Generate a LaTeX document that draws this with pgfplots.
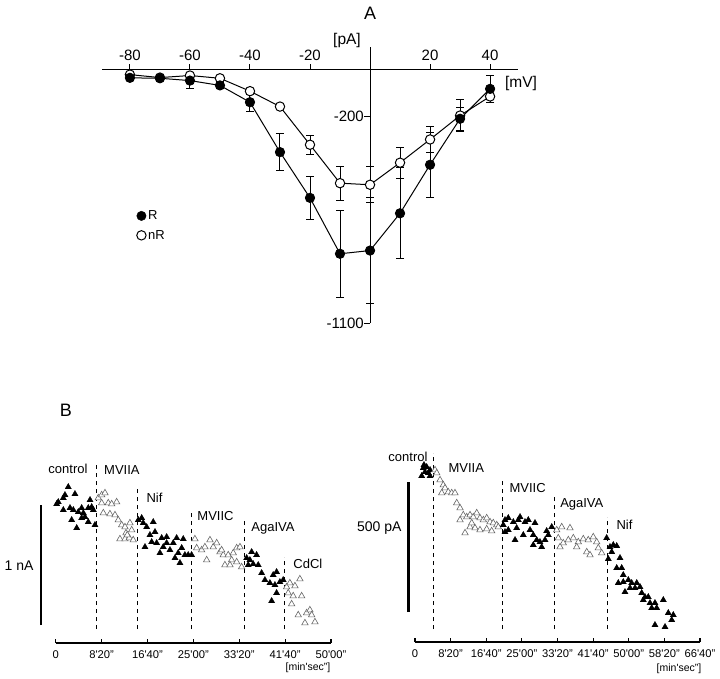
\documentclass[border=0pt]{standalone}
\usepackage{fontspec}
\setmainfont{Liberation Sans}
\usepackage{pgfplots}
\pgfplotsset{compat=1.18}
\newcommand{\ms}[2]{#1\textquotesingle#2"}
\pgfplotsset{
  filled/.style={only marks, mark=triangle*, mark size=3.6pt, mark options={fill=black, draw=black, line width=0.3pt}},
  open/.style={only marks, mark=triangle*, mark size=3.7pt, mark options={fill=white, draw=black!60, line width=0.6pt}},
  drug/.style={black, line width=1.3pt, dash pattern=on 4pt off 4pt, no marks},
  bax/.style={scale only axis, anchor=south west, axis x line=bottom, axis y line=none,
    axis line style={-, line width=1.2pt},
    every outer x axis line/.append style={-}, every inner x axis line/.append style={-},
    xtick align=inside, major tick length=4pt, tick style={black, line width=1.2pt},
    xticklabel style={font=\fontsize{11.2}{13}\selectfont, inner sep=0pt, anchor=north, yshift=-7pt},
    clip=false, ymin=0, ymax=190, height=190pt},
  Rst/.style={black, line width=1pt, mark=*, mark size=4.7pt, mark options={fill=black, draw=black, line width=0.8pt}},
  nRst/.style={black, line width=1pt, mark=*, mark size=4.7pt, mark options={fill=white, draw=black, line width=1pt}},
}
\begin{document}
\begin{tikzpicture}[x=1pt,y=1pt]
\path[use as bounding box] (0,0) rectangle (720,-679);
\node[font=\fontsize{18}{20}\selectfont] at (370,-13) {A};
\node[font=\fontsize{18}{20}\selectfont] at (66,-410) {B};
\node[font=\fontsize{15.5}{17}\selectfont] at (347,-40) {[pA]};
\node[font=\fontsize{15.5}{17}\selectfont] at (521,-83) {[mV]};

% ---------------- Panel A ----------------
\begin{axis}[
  at={(102pt,-323pt)}, anchor=south west, scale only axis,
  width=416pt, height=276pt,
  xmin=-89.3, xmax=49.3, ymin=-1100, ymax=100,
  axis lines=middle, axis line style={-, line width=1pt},
  every inner x axis line/.append style={-}, every inner y axis line/.append style={-},
  xtick={-80,-60,-40,-20,20,40}, xticklabels={-80,-60,-40,-20,20,40},
  ytick={-200,-1100}, yticklabels={-200,-1100},
  xtick align=inside, ytick align=outside, major tick length=6pt,
  tick style={black, line width=1pt},
  xticklabel style={font=\fontsize{15}{17}\selectfont, inner sep=0pt, anchor=south, yshift=9pt},
  yticklabel style={font=\fontsize{15}{17}\selectfont, inner sep=0pt, anchor=east},
  clip=false,
  legend style={at={(0.083,0.415)}, anchor=north west, draw=none, fill=none,
    font=\fontsize{13}{15}\selectfont, row sep=5pt, inner sep=0pt},
  legend cell align=left,
  error bars/error bar style={black, line width=1pt},
  error bars/error mark options={rotate=90, mark size=4pt, line width=1pt},
]
\addplot+[nRst, forget plot, error bars/.cd, y dir=both, y explicit] coordinates {
  (-80,-20) +- (0,5)
  (-70,-33) +- (0,5)
  (-60,-24) +- (0,12)
  (-50,-36) +- (0,5)
  (-40,-92) +- (0,8)
  (-30,-159) +- (0,10)
  (-20,-325) +- (0,42)
  (-10,-492) +- (0,74)
  (0,-499) +- (0,78)
  (10,-403) +- (0,68)
  (20,-302) +- (0,56)
  (30,-198) +- (0,70)
  (40,-115) +- (0,25)
};
\addplot+[Rst, forget plot, error bars/.cd, y dir=both, y explicit] coordinates {
  (-80,-34) +- (0,5)
  (-70,-36) +- (0,5)
  (-60,-46) +- (0,34)
  (-50,-67) +- (0,15)
  (-40,-140) +- (0,40)
  (-30,-357) +- (0,80)
  (-20,-556) +- (0,95)
  (-10,-799) +- (0,190)
  (0,-785) +- (0,229)
  (10,-623) +- (0,198)
  (20,-412) +- (0,141)
  (30,-212) +- (0,50)
  (40,-82) +- (0,58)
};
\addlegendimage{only marks, mark=*, mark size=4.7pt, mark options={fill=black, draw=black}}
\addlegendentry{R}
\addlegendimage{only marks, mark=*, mark size=4.7pt, mark options={fill=white, draw=black, line width=1pt}}
\addlegendentry{nR}
\end{axis}

% ---------------- Panel B left ----------------
\begin{axis}[bax, at={(55.7pt,-643pt)}, width=275.3pt,
  xmin=0, xmax=3000, xtick={0,500,...,3000},
  xticklabels={0,\ms{8}{20},\ms{16}{40},\ms{25}{00},\ms{33}{20},\ms{41}{40},\ms{50}{00}}]
\addplot[line width=2.5pt, no marks] coordinates {(-160,18) (-160,138)};
\node[anchor=east, font=\fontsize{14}{16}\selectfont] at (axis cs:-204,77) {1 nA};
\addplot[drug] coordinates {(447,14) (447,180)};
\addplot[drug] coordinates {(889,14) (889,156)};
\addplot[drug] coordinates {(1481,14) (1481,133)};
\addplot[drug] coordinates {(2059,14) (2059,123)};
\addplot[drug] coordinates {(2490,14) (2490,86)};
\addplot[filled] coordinates {(137,156) (101,148) (83,145) (28,141) (11,139) (210,149) (156,135) (83,133) (192,133) (283,135) (246,131) (301,130) (355,135) (374,143) (392,136) (319,126) (174,123) (229,115) (283,125) (355,121) (428,118) (410,133)};
\addplot[open] coordinates {(464,145) (501,148) (537,150) (501,140) (573,140) (610,139) (664,141) (519,130) (591,129) (646,128) (682,123) (719,118) (755,116) (809,120) (766,110) (700,104) (755,104) (802,105) (845,103) (780,108) (828,113)};
\addplot[filled] coordinates {(900,123) (937,125) (954,120) (991,116) (1063,121) (1082,111) (1027,108) (973,96) (1046,101) (1100,100) (1155,105) (1172,96) (1136,90) (1209,106) (1245,93) (1318,105) (1281,100) (1335,90) (1300,85) (1354,80) (1373,95) (1408,88) (1444,88) (1481,88) (1390,104) (1209,100)};
\addplot[open] coordinates {(1517,104) (1536,95) (1590,93) (1626,96) (1645,83) (1681,103) (1717,96) (1754,100) (1790,91) (1826,88) (1844,78) (1880,88) (1917,83) (1935,90) (1972,95) (2008,96) (1972,81) (2026,76) (1899,78) (1808,93)};
\addplot[filled] coordinates {(2081,85) (2135,91) (2189,88) (2098,78) (2152,79) (2207,78) (2244,70) (2280,63) (2334,60) (2370,68) (2407,71) (2443,61) (2389,58) (2407,50) (2353,42) (2479,63) (2116,83)};
\addplot[open] coordinates {(2516,56) (2552,60) (2607,57) (2661,64) (2534,50) (2588,47) (2680,47) (2571,39) (2643,28) (2734,30) (2770,33) (2789,28) (2825,21) (2716,20)};
\node[anchor=west, font=\fontsize{13}{15}\selectfont] at (axis cs:-117,174) {control};
\node[anchor=west, font=\fontsize{13}{15}\selectfont] at (axis cs:490,173) {MVIIA};
\node[anchor=west, font=\fontsize{13}{15}\selectfont] at (axis cs:951,145) {Nif};
\node[anchor=west, font=\fontsize{13}{15}\selectfont] at (axis cs:1506,127) {MVIIC};
\node[anchor=west, font=\fontsize{13}{15}\selectfont] at (axis cs:2094,115) {AgaIVA};
\node[anchor=west, font=\fontsize{13}{15}\selectfont] at (axis cs:2552,79) {CdCl};
\node[font=\fontsize{10.5}{12}\selectfont] at (axis cs:2749,-25) {[min\textquotesingle sec"]};
\end{axis}

% ---------------- Panel B right ----------------
\begin{axis}[bax, at={(415pt,-642pt)}, width=285pt,
  xmin=0, xmax=4000, xtick={0,500,...,4000},
  xticklabels={0,\ms{8}{20},\ms{16}{40},\ms{25}{00},\ms{33}{20},\ms{41}{40},\ms{50}{00},\ms{58}{20},\ms{66}{40}}]
\addplot[line width=2.5pt, no marks] coordinates {(-94,30) (-94,160)};
\node[anchor=east, font=\fontsize{14}{16}\selectfont] at (axis cs:-140,114) {500 pA};
\addplot[drug] coordinates {(257,13) (257,189)};
\addplot[drug] coordinates {(1225,13) (1225,164)};
\addplot[drug] coordinates {(1961,13) (1961,145)};
\addplot[drug] coordinates {(2705,13) (2705,125)};
\addplot[filled] coordinates {(116,174) (164,175) (140,170) (94,166) (187,169) (211,166) (211,172) (126,177)};
\addplot[open] coordinates {(281,172) (305,169) (351,162) (397,157) (421,154) (375,149) (467,150) (515,149) (561,149) (585,139) (632,134) (678,127) (726,125) (772,127) (818,125) (866,129) (912,124) (959,122) (1006,124) (1053,120) (1099,119) (1147,117) (702,109) (772,115) (842,114) (912,112) (1006,113) (1076,111) (1169,115) (632,122) (796,119)};
\addplot[filled] coordinates {(1263,122) (1309,124) (1380,120) (1450,122) (1474,125) (1544,120) (1590,122) (1684,119) (1263,110) (1309,112) (1404,102) (1427,114) (1520,107) (1614,112) (1660,107) (1708,102) (1754,100) (1660,97) (1778,95) (1825,102) (1871,107) (1848,111) (1919,115) (1239,117)};
\addplot[open] coordinates {(1989,112) (2059,115) (2175,114) (2011,104) (2081,99) (2152,102) (2222,104) (2292,100) (2362,103) (2432,102) (2502,105) (2550,100) (2410,90) (2456,87) (2573,94) (2620,89) (2269,95) (2035,95)};
\addplot[filled] coordinates {(2690,104) (2737,95) (2783,97) (2831,96) (2761,90) (2713,83) (2877,84) (2831,74) (2901,74) (2853,59) (2923,60) (2994,62) (3041,59) (3112,59) (3018,54) (3088,54) (3158,55) (3182,49) (3228,45) (3274,45) (3204,42) (3298,39) (3368,39) (3392,34) (3485,42) (3322,34) (3555,29) (3625,27) (3603,22) (3368,17) (3509,15) (2923,67) (2947,50)};
\node[anchor=east, font=\fontsize{13}{15}\selectfont] at (axis cs:225,185) {control};
\node[anchor=west, font=\fontsize{13}{15}\selectfont] at (axis cs:421,174) {MVIIA};
\node[anchor=west, font=\fontsize{13}{15}\selectfont] at (axis cs:1277,154) {MVIIC};
\node[anchor=west, font=\fontsize{13}{15}\selectfont] at (axis cs:1989,138) {AgaIVA};
\node[anchor=west, font=\fontsize{13}{15}\selectfont] at (axis cs:2779,117) {Nif};
\node[font=\fontsize{10.5}{12}\selectfont] at (axis cs:3705,-27) {[min\textquotesingle sec"]};
\end{axis}
\end{tikzpicture}
\end{document}
